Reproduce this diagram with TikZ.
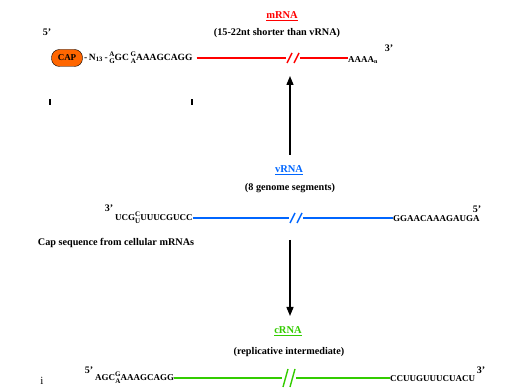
\documentclass[tikz,border=0pt]{standalone}
\usepackage{fontspec}
\setmainfont{Liberation Serif}
\usetikzlibrary{arrows.meta,shapes.geometric}
\definecolor{mred}{RGB}{255,0,0}
\definecolor{vblue}{RGB}{0,102,255}
\definecolor{cgreen}{RGB}{51,204,0}
\definecolor{caporange}{RGB}{255,102,0}
\newcommand\stk[2]{\raisebox{-0.75ex}{\fontsize{7}{7}\selectfont\shortstack{#1\\[-0.5pt]#2}}}
\begin{document}
\begin{tikzpicture}[x=1pt,y=-1pt,
  txt/.style={inner sep=0pt,font=\fontsize{10.2}{11}\selectfont\bfseries},
  seq/.style={inner sep=0pt,font=\fontsize{9}{10}\selectfont\bfseries},
  ttl/.style={inner sep=0pt,font=\fontsize{10.5}{11}\selectfont\bfseries},
  endl/.style={inner sep=0pt,font=\fontsize{10}{11}\selectfont\bfseries},
  strand/.style={line width=2.2pt},
  brk/.style={line width=1.4pt},
  flow/.style={line width=1.3pt,-{Triangle[length=9pt,width=7pt]}}]
\useasboundingbox (0,0) rectangle (512,390);
% ---------- mRNA ----------
\node[ttl,text=mred] (mt) at (282,16) {\underline{mRNA}};
\node[txt] (ms) at (277,33) {(15-22nt shorter than vRNA)};
\node[endl] (m5) at (47,32) {5'};
\node[draw=black,fill=caporange,rounded corners=8pt,minimum width=31pt,minimum height=17pt,inner sep=1pt,font=\fontsize{9}{10}\selectfont\bfseries] (cap) at (67,58) {CAP};
\node[seq,anchor=west,font=\fontsize{9.5}{10}\selectfont\bfseries] (mseq) at (84,58) {-\,N\textsubscript{13}\,-\,\stk{A}{G}GC\,\stk{G}{A}AAAGCAGG};
\coordinate (mb) at (293,58);
\node[seq,anchor=west] (mA) at (348,60) {AAAA\textsubscript{n}};
\node[endl] (m3) at (389,48) {3'};
\draw[strand,mred] (mseq.east |- mb) ++(4,0) -- ([xshift=-7pt]mb);
\draw[strand,mred] ([xshift=7pt]mb) -- (mA.west |- mb);
\draw[brk,mred] ([xshift=-6pt,yshift=-5pt]mb) -- ([xshift=-1pt,yshift=5pt]mb);
\draw[brk,mred] ([xshift=1pt,yshift=-5pt]mb) -- ([xshift=6pt,yshift=5pt]mb);
\node[inner sep=0pt,minimum width=1.2pt,minimum height=6pt,fill=black] (t1) at (50,102) {};
\node[inner sep=0pt,minimum width=1.2pt,minimum height=6pt,fill=black] (t2) at (192,102) {};
% ---------- vRNA ----------
\node[ttl,text=vblue] (vt) at (289,170) {\underline{vRNA}};
\node[txt] (vs) at (290,188) {(8 genome segments)};
\node[endl] (v3) at (109,208) {3'};
\node[seq,anchor=west] (vseq) at (115,218) {UCG\stk{C}{U}UUUCGUCC};
\coordinate (vb) at (296,218);
\node[seq,anchor=west] (vseq2) at (393,219) {GGAACAAAGAUGA};
\node[endl] (v5) at (477,209) {5'};
\node[txt] (vc) at (116,243) {Cap sequence from cellular mRNAs};
\draw[strand,vblue] (vseq.east |- vb) -- ([xshift=-7pt]vb);
\draw[strand,vblue] ([xshift=7pt]vb) -- (vseq2.west |- vb);
\draw[brk,vblue] ([xshift=-6pt,yshift=-5pt]vb) -- ([xshift=-1pt,yshift=5pt]vb);
\draw[brk,vblue] ([xshift=1pt,yshift=-5pt]vb) -- ([xshift=6pt,yshift=5pt]vb);
% ---------- cRNA ----------
\node[ttl,text=cgreen] (ct) at (288,331) {\underline{cRNA}};
\node[txt] (cs) at (289,352) {(replicative intermediate)};
\node[endl] (c5) at (89,370) {5'};
\node[seq,anchor=west] (cseq) at (95,378) {AGC\stk{G}{A}AAAGCAGG};
\coordinate (cb) at (289,378);
\node[seq,anchor=west] (cseq2) at (390,379) {CCUUGUUUCUACU};
\node[endl] (c3) at (481,370) {3'};
\draw[strand,cgreen] (cseq.east |- cb) -- ([xshift=-7pt]cb);
\draw[strand,cgreen] ([xshift=7pt]cb) -- (cseq2.west |- cb);
\draw[brk,cgreen] ([xshift=-6pt,yshift=-9pt]cb) -- ([xshift=-1pt,yshift=9pt]cb);
\draw[brk,cgreen] ([xshift=1pt,yshift=-9pt]cb) -- ([xshift=6pt,yshift=9pt]cb);
\node[inner sep=0pt,font=\fontsize{11}{12}\selectfont] (i) at (42,381) {i};
% ---------- arrows ----------
\coordinate (a1) at (290,155);
\coordinate (a2) at (290,76);
\coordinate (b1) at (290,240);
\coordinate (b2) at (290,316);
\draw[flow] (a1) -- (a2);
\draw[flow] (b1) -- (b2);
\end{tikzpicture}
\end{document}
